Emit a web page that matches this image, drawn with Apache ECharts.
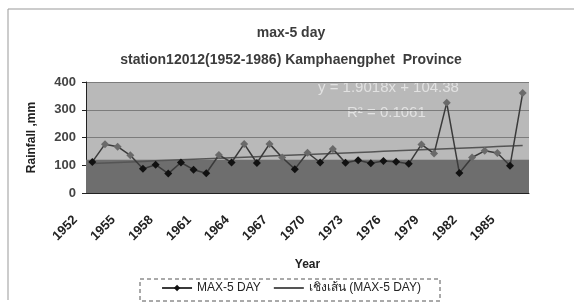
<!DOCTYPE html>
<html>
<head>
<meta charset="utf-8">
<script src="https://cdn.jsdelivr.net/npm/echarts@6/dist/echarts.min.js"></script>
<style>
  html, body { margin: 0; padding: 0; background: #fff; }
  #main { width: 582px; height: 308px; }
</style>
</head>
<body>
<div id="main"></div>
<script>
// data
var years = ['1952','1953','1954','1955','1956','1957','1958','1959','1960','1961',
  '1962','1963','1964','1965','1966','1967','1968','1969','1970','1971',
  '1972','1973','1974','1975','1976','1977','1978','1979','1980','1981',
  '1982','1983','1984','1985','1986'];
var max5day = [112, 176, 167, 136, 87, 102, 70, 110, 84, 71,
  137, 110, 177, 108, 177, 128, 86, 145, 110, 159,
  109, 118, 107, 115, 113, 105, 175, 142, 325, 72,
  128, 152, 144, 98, 360];
var yTicks = [0, 100, 200, 300, 400];
// trend coefficients printed on the chart
var trendSlope = 1.9018;
var trendIntercept = 104.38;
var trendR2 = 0.1061;

var trend = years.map(function (y, i) {
  return +(trendSlope * (i + 1) + trendIntercept).toFixed(2);
});

// darker band at the bottom of the plot (scan shading)
var bandTop = 120;

var font = 'Arial, "Liberation Sans", sans-serif';
var chart = echarts.init(document.getElementById('main'));

// points in the light area look grey in the scan
var pointData = max5day.map(function (v) {
  return { value: v, itemStyle: { color: v > bandTop ? '#6a6a6a' : '#111' } };
});

var option = {
  backgroundColor: '#ffffff',
  animation: false,
  title: {
    text: 'max-5 day',
    subtext: 'station12012(1952-1986) Kamphaengphet  Province',
    left: 'center',
    top: 21,
    itemGap: 13,
    textStyle: { fontFamily: font, fontSize: 14, fontWeight: 'bold', color: '#3c3c3c' },
    subtextStyle: { fontFamily: font, fontSize: 14, fontWeight: 'bold', color: '#3c3c3c' }
  },
  grid: {
    left: 86, right: 53, top: 82, bottom: 115,
    show: true,
    backgroundColor: '#b9b9b9',
    borderWidth: 0
  },
  legend: {
    bottom: 9,
    left: 'center',
    itemWidth: 30,
    itemHeight: 8,
    itemGap: 12,
    textStyle: { fontFamily: font, fontSize: 12, color: '#222' },
    data: [
      { name: 'MAX-5 DAY', itemStyle: { color: '#111' } },
      'เชิงเส้น (MAX-5 DAY)'
    ]
  },
  xAxis: {
    type: 'category',
    data: years,
    boundaryGap: true,
    name: 'Year',
    nameLocation: 'middle',
    nameGap: 66,
    nameTextStyle: { fontFamily: font, fontSize: 12, fontWeight: 'bold', color: '#222' },
    axisLine: { lineStyle: { color: '#222', width: 1 } },
    axisTick: { interval: 0, length: 4, lineStyle: { color: '#222' } },
    axisLabel: {
      interval: 2, rotate: 45, margin: 8, padding: [0, 24, 0, 0],
      fontFamily: font, fontSize: 13, fontWeight: 'bold', color: '#222'
    },
    splitLine: { show: false }
  },
  yAxis: {
    type: 'value',
    min: yTicks[0], max: yTicks[yTicks.length - 1], interval: 100,
    name: 'Rainfall ,mm',
    nameLocation: 'middle',
    nameGap: 48,
    nameRotate: 90,
    nameTextStyle: { fontFamily: font, fontSize: 12, fontWeight: 'bold', color: '#222' },
    axisLine: { show: true, lineStyle: { color: '#222' } },
    axisTick: { show: true, length: 4, lineStyle: { color: '#222' } },
    axisLabel: { fontFamily: font, fontSize: 13, fontWeight: 'bold', color: '#444', margin: 10 },
    splitLine: { show: true, lineStyle: { color: '#7c7c7c', width: 1 } }
  },
  series: [
    {
      name: 'MAX-5 DAY',
      type: 'line',
      data: pointData,
      symbol: 'diamond',
      symbolSize: 8,
      lineStyle: { width: 1.5, color: '#3a3a3a' },
      itemStyle: { color: '#111' },
      z: 3
    },
    {
      name: 'เชิงเส้น (MAX-5 DAY)',
      type: 'line',
      data: trend,
      symbol: 'circle',
      showSymbol: false,
      lineStyle: { width: 1.5, color: '#555' },
      itemStyle: { color: 'rgba(0,0,0,0)' },
      z: 2,
      markArea: {
        silent: true,
        itemStyle: { color: '#6e6e6e' },
        data: [[{ yAxis: 0 }, { yAxis: bandTop }]]
      }
    }
  ],
  graphic: [
    {
      type: 'polyline', silent: true,
      shape: { points: [[8, 300], [8, 9], [574, 9]] },
      style: { stroke: '#999', lineWidth: 1, fill: null }
    },
    {
      type: 'rect', silent: true,
      shape: { x: 140, y: 279, width: 300, height: 22 },
      style: { stroke: '#555', lineWidth: 1, lineDash: [4, 3], fill: null }
    },
    {
      type: 'text', silent: true, left: 318, top: 80,
      style: { text: 'y = ' + trendSlope + 'x + ' + trendIntercept, fontFamily: font, fontSize: 15, fill: '#e2e2e2' }
    },
    {
      type: 'text', silent: true, left: 347, top: 105,
      style: { text: 'R² = ' + trendR2, fontFamily: font, fontSize: 15, fill: '#e2e2e2' }
    }
  ]
};
chart.setOption(option);
</script>
</body>
</html>
